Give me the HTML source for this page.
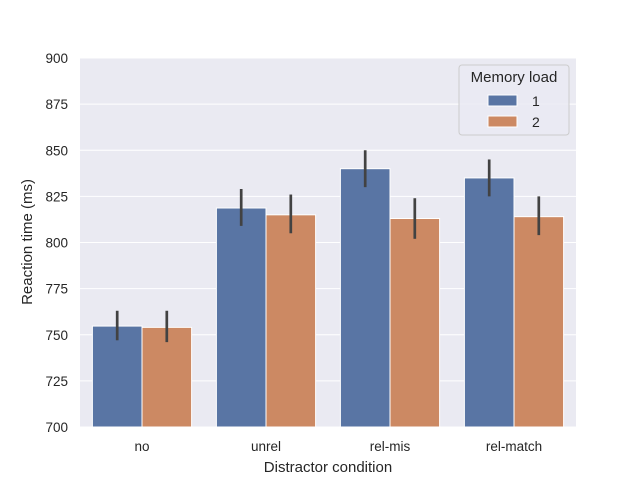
<!DOCTYPE html>
<html><head><meta charset="utf-8"><style>
body{margin:0;background:#fff}
svg{font-family:"Liberation Sans","DejaVu Sans",sans-serif}
</style></head><body>
<svg id="chart" width="640" height="480">
<rect x="80" y="58" width="496" height="369" fill="#eaeaf2"/>
<g id="grid"></g><g id="bars"></g><g id="ticks"></g>
<text x="328" y="472" text-anchor="middle" font-size="15" fill="#262626">Distractor condition</text>
<text x="32" y="242" text-anchor="middle" font-size="15" fill="#262626" transform="rotate(-90 32 242)">Reaction time (ms)</text>
<g>
<rect x="459" y="65" width="110" height="70" rx="3" fill="#eaeaf2" fill-opacity="0.8" stroke="#cccccc"/>
<text x="514" y="82" text-anchor="middle" font-size="15" fill="#262626">Memory load</text>
<g><rect x="488" y="95" width="29" height="11" fill="#5975a4" stroke="#fff"/><text x="532" y="106" font-size="14" fill="#262626">1</text></g>
<g><rect x="488" y="116" width="29" height="11" fill="#cc8963" stroke="#fff"/><text x="532" y="127" font-size="14" fill="#262626">2</text></g>
</g>
</svg>
<script>
const categories=["no","unrel","rel-mis","rel-match"];
const load1=[754.7,818.7,840,835];
const load2=[754,815,813,814];
const load1Low=[747,809,830,825];
const load1High=[763,829,850,845];
const load2Low=[746,805,802,804];
const load2High=[763,826,824,825];
const yTicks=[700,725,750,775,800,825,850,875,900];
const NS="http://www.w3.org/2000/svg";
const x0=80,x1=576,yTop=58,yBot=427,ymin=700,ymax=900;
const y=v=>yBot-(v-ymin)/(ymax-ymin)*(yBot-yTop);
const bw=(x1-x0)/categories.length;
const xc=i=>x0+bw*(i+0.5);
function mk(tag,attrs,parent){const e=document.createElementNS(NS,tag);for(const k in attrs)e.setAttribute(k,attrs[k]);document.getElementById(parent).appendChild(e);return e;}
yTicks.forEach(t=>{
 const l=mk('line',{x1:x0,x2:x1,y1:y(t),y2:y(t),stroke:'#fff','stroke-width':1},'grid');
 
 
 const tx=mk('text',{x:x0-12,y:y(t)+5,'text-anchor':'end','font-size':13.5,fill:'#262626'},'ticks');
 tx.textContent=t;
 
 
});
const w=bw*0.4;
categories.forEach((c,i)=>{
 [[load1,load1Low,load1High,'#5975a4',-1],[load2,load2Low,load2High,'#cc8963',0]].forEach((s,k)=>{
  const bx=xc(i)+s[4]*w;
  const r=mk('rect',{x:bx,y:y(s[0][i]),width:w,height:yBot-y(s[0][i]),fill:s[3],stroke:'#fff','stroke-width':1},'bars');
  
  
  const e=mk('line',{x1:bx+w/2,x2:bx+w/2,y1:y(s[1][i]),y2:y(s[2][i]),stroke:'#424242','stroke-width':2.7},'bars');
  
  
 });
 const tx=mk('text',{x:xc(i),y:yBot+24,'text-anchor':'middle','font-size':13.5,fill:'#262626'},'ticks');
 tx.textContent=c;
 
 
});
</script>
</body></html>
